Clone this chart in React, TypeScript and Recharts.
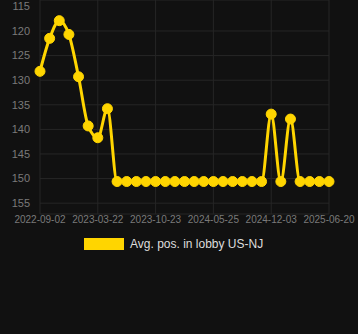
import React from 'react';
import { LineChart, Line, XAxis, YAxis, CartesianGrid } from 'recharts';

const dates = [
  '2022-09-02', '2022-10-05', '2022-11-08', '2022-12-11', '2023-01-13', '2023-02-16',
  '2023-03-22', '2023-04-27', '2023-06-02', '2023-07-08', '2023-08-13', '2023-09-17',
  '2023-10-23', '2023-11-28', '2024-01-03', '2024-02-08', '2024-03-14', '2024-04-19',
  '2024-05-25', '2024-06-26', '2024-07-28', '2024-08-30', '2024-10-01', '2024-11-01',
  '2024-12-03', '2025-01-05', '2025-02-07', '2025-03-12', '2025-04-14', '2025-05-17',
  '2025-06-20',
];

const avgPos = [
  128.2, 121.5, 117.9, 120.7, 129.3, 139.3, 141.7, 135.8,
  150.6, 150.6, 150.6, 150.6, 150.6, 150.6, 150.6, 150.6,
  150.6, 150.6, 150.6, 150.6, 150.6, 150.6, 150.6, 150.6,
  136.9, 150.6, 137.9, 150.6, 150.6, 150.6, 150.6,
];

const yTicks = [115, 120, 125, 130, 135, 140, 145, 150, 155];
const seriesName = 'Avg. pos. in lobby US-NJ';

const data = dates.map((d, i) => ({ date: d, value: avgPos[i] }));

const GOLD = '#FFD500';
const FONT = '"Liberation Sans", Arial, sans-serif';

export default function App() {
  return (
    <div style={{ position: 'fixed', left: 0, top: 0, width: 358, height: 334, background: '#111111', fontFamily: FONT }}>
      <LineChart width={358} height={334} data={data} margin={{ top: 0, right: 29, left: 0, bottom: 100 }}>
        <CartesianGrid stroke="#262626" strokeWidth={1} />
        <XAxis
          dataKey="date"
          interval={5}
          axisLine={false}
          tickLine={false}
          tickSize={0}
          tickMargin={2}
          height={20}
          tick={{ fill: '#7a7a7a', fontSize: 10, fontFamily: FONT }}
        />
        <YAxis
          reversed
          domain={[113.7, 157.2]}
          ticks={yTicks}
          allowDataOverflow
          axisLine={false}
          tickLine={false}
          tickSize={6}
          tickMargin={4}
          width={40}
          tick={{ fill: '#7a7a7a', fontSize: 11, fontFamily: FONT }}
        />
        <Line
          type="monotone"
          dataKey="value"
          name={seriesName}
          stroke={GOLD}
          strokeWidth={3}
          dot={{ r: 5, fill: GOLD, stroke: GOLD, strokeWidth: 1 }}
          isAnimationActive={false}
        />
      </LineChart>
      <div style={{ position: 'absolute', left: 84, top: 238, display: 'flex', alignItems: 'center', height: 12 }}>
        <div style={{ width: 40, height: 12, background: GOLD, marginRight: 6 }} />
        <span style={{ color: '#dddddd', fontSize: 12, fontFamily: FONT, lineHeight: '12px' }}>{seriesName}</span>
      </div>
    </div>
  );
}
